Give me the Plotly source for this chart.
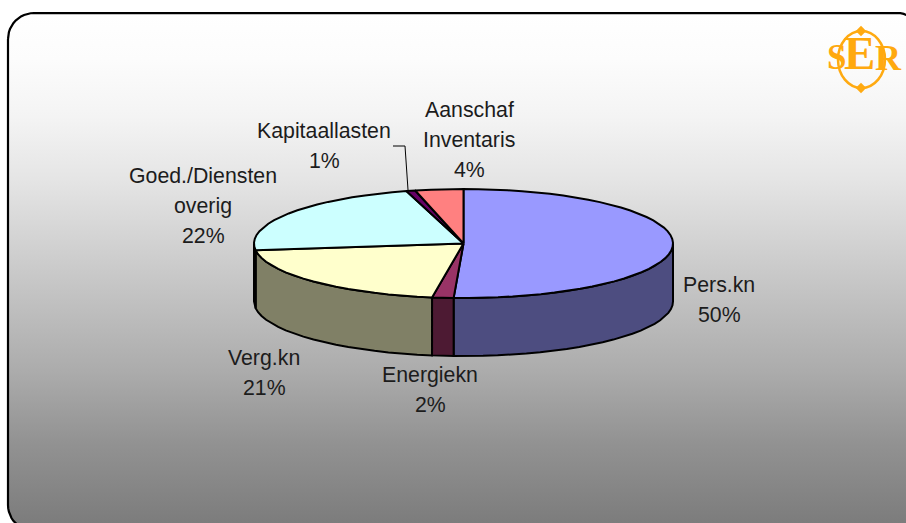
import math
import plotly.graph_objects as go

# ---- data ----
categories = ["Pers.kn", "Energiekn", "Verg.kn", "Goed./Diensten overig", "Kapitaallasten", "Aanschaf Inventaris"]
values = [50.75, 1.65, 20.6, 22.6, 0.7, 3.7]
percent_labels = ["50%", "2%", "21%", "22%", "1%", "4%"]
top_colors = ["#9999FF", "#993366", "#FFFFCC", "#CCFFFF", "#660066", "#FF8080"]
side_colors = ["#4D4D80", "#4D1A33", "#808066", "#668080", "#330033", "#804040"]

label_lines = [["Pers.kn"], ["Energiekn"], ["Verg.kn"], ["Goed./Diensten", "overig"], ["Kapitaallasten"], ["Aanschaf", "Inventaris"]]
label_x = [719, 430, 264, 203, 324, 469]
label_y = [285, 375, 358, 176, 131, 110]

# ---- geometry ----
W, H = 906, 523
CX, CY, RX, RY, DEPTH = 463.5, 243.5, 209.5, 54.5, 58
STEP = 4.0
LINE_H = 30.2

def arc(a0, a1, dy=0.0):
    n = max(2, int(abs(a1 - a0) / STEP) + 1)
    pts = [a0 + (a1 - a0) * i / (n - 1) for i in range(n)]
    return ([CX + RX * math.sin(math.radians(a)) for a in pts],
            [CY - RY * math.cos(math.radians(a)) + dy for a in pts])

def rounded(x0, y0, x1, y1, r):
    xs, ys = [], []
    for cx, cy, a0 in [(x0 + r, y0 + r, 180), (x1 - r, y0 + r, 270), (x1 - r, y1 - r, 0), (x0 + r, y1 - r, 90)]:
        for i in range(13):
            a = math.radians(a0 + 90 * i / 12)
            xs.append(cx + r * math.cos(a))
            ys.append(cy + r * math.sin(a))
    return xs + xs[:1], ys + ys[:1]

fig = go.Figure()

# panel
px, py = rounded(8, 13, 923, 531, 26)
fig.add_trace(go.Scatter(
    x=px, y=py, mode="lines", fill="toself", hoverinfo="skip",
    line=dict(color="#000000", width=2.2),
    fillgradient=dict(type="vertical", start=13, stop=531, colorscale=[
        [0.0, "#FFFFFF"], [0.09, "#FCFCFC"], [0.20, "#F4F4F4"], [0.32, "#E5E5E5"],
        [0.69, "#ACACAC"], [0.83, "#929292"], [1.0, "#7A7A7A"]]),
))

# slice angles
edges = [0.0]
for v in values:
    edges.append(edges[-1] + v / sum(values) * 360)

# walls (front half only)
for i in range(len(values)):
    a0, a1 = max(edges[i], 90), min(edges[i + 1], 270)
    if a1 <= a0:
        continue
    xt, yt = arc(a0, a1)
    xb, yb = arc(a0, a1, DEPTH)
    fig.add_trace(go.Scatter(
        x=xt + xb[::-1] + xt[:1], y=yt + yb[::-1] + yt[:1], mode="lines", fill="toself",
        fillcolor=side_colors[i], line=dict(color="#000000", width=2), hoverinfo="skip"))

# tops
for i in range(len(values)):
    xa, ya = arc(edges[i], edges[i + 1])
    fig.add_trace(go.Scatter(
        x=[CX] + xa + [CX], y=[CY] + ya + [CY], mode="lines", fill="toself",
        fillcolor=top_colors[i], line=dict(color="#000000", width=2), hoverinfo="skip"))

# leader line of the small slice
lx, ly = arc(edges[4] + (edges[5] - edges[4]) * 0.2, edges[4] + (edges[5] - edges[4]) * 0.2)
fig.add_trace(go.Scatter(x=[393, 405, lx[0]], y=[146, 146, ly[0]], mode="lines",
                         line=dict(color="#000000", width=1), hoverinfo="skip"))

# logo ring
fig.add_shape(type="circle", x0=838, x1=885, y0=31, y1=88,
              line=dict(color="#FFAA11", width=2.5))
fig.add_trace(go.Scatter(x=[861, 861], y=[31, 88], mode="markers", hoverinfo="skip",
                         marker=dict(symbol="diamond", size=8, color="#FFAA11")))

annotations = []
def text(x, y, s, size=21.3, family="Liberation Sans", color="#1C1C1C", **kw):
    annotations.append(dict(x=x, y=y, text=s, showarrow=False, xref="x", yref="y",
                            font=dict(family=family, size=size, color=color),
                            xanchor="center", yanchor="middle", **kw))

for lines, pct, x, y in zip(label_lines, percent_labels, label_x, label_y):
    for k, s in enumerate(lines + [pct]):
        text(x, y + k * LINE_H, s)

for x, y, s, size in [(836, 57, "S", 35), (859, 53, "E", 47), (888, 58, "R", 36)]:
    text(x, y, f"<b>{s}</b>", size=size, family="Liberation Serif", color="#FFA90F")

# cropped heading at the top edge
text(109, -9, "<b>p</b>", size=32, family="Liberation Serif", color="#000000")

fig.update_layout(
    width=W, height=H, autosize=False, showlegend=False,
    margin=dict(l=0, r=0, t=0, b=0), paper_bgcolor="#FFFFFF", plot_bgcolor="rgba(0,0,0,0)",
    xaxis=dict(range=[0, W], visible=False, fixedrange=True),
    yaxis=dict(range=[H, 0], visible=False, fixedrange=True),
    annotations=annotations,
)
fig.write_html("out.html", config={"displayModeBar": False},
               post_script="document.body.style.margin='0';document.documentElement.style.overflow='hidden';")
